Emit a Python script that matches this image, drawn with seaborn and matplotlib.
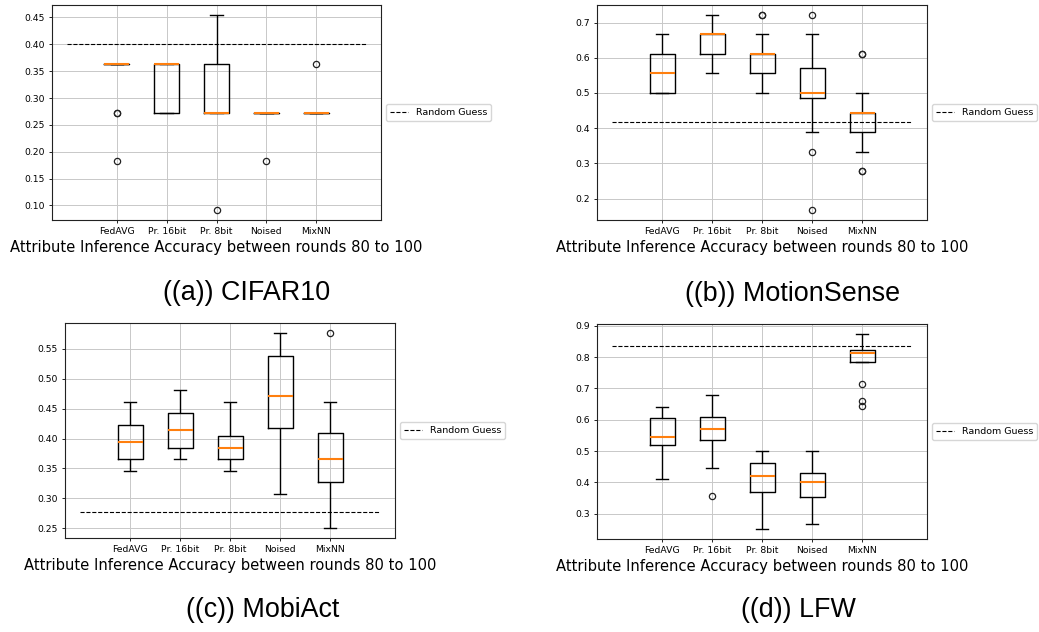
import numpy as np
import pandas as pd
import matplotlib
matplotlib.use('Agg')
import matplotlib.pyplot as plt
from matplotlib.ticker import MultipleLocator
import seaborn as sns

methods = ['FedAVG', 'Pr. 16bit', 'Pr. 8bit', 'Noised', 'MixNN']

# accuracy of the attack for each round 80..100
cifar10 = {
    'FedAVG': [0.182, 0.273, 0.273, 0.364, 0.364, 0.364, 0.364, 0.364, 0.364, 0.364,
               0.364, 0.364, 0.364, 0.364, 0.364, 0.364, 0.364, 0.364, 0.364, 0.364],
    'Pr. 16bit': [0.273, 0.273, 0.273, 0.273, 0.273, 0.273, 0.364, 0.364, 0.364, 0.364,
                  0.364, 0.364, 0.364, 0.364, 0.364, 0.364, 0.364, 0.364, 0.364, 0.364],
    'Pr. 8bit': [0.091, 0.273, 0.273, 0.273, 0.273, 0.273, 0.273, 0.273, 0.273, 0.273,
                 0.273, 0.364, 0.364, 0.364, 0.364, 0.364, 0.364, 0.364, 0.455, 0.455],
    'Noised': [0.182, 0.273, 0.273, 0.273, 0.273, 0.273, 0.273, 0.273, 0.273, 0.273,
               0.273, 0.273, 0.273, 0.273, 0.273, 0.273, 0.273, 0.273, 0.273, 0.273],
    'MixNN': [0.273, 0.273, 0.273, 0.273, 0.273, 0.273, 0.273, 0.273, 0.273, 0.273,
              0.273, 0.273, 0.273, 0.273, 0.273, 0.273, 0.273, 0.273, 0.273, 0.364],
}
motionsense = {
    'FedAVG': [0.5, 0.5, 0.5, 0.5, 0.5, 0.5, 0.556, 0.556, 0.556, 0.556,
               0.556, 0.611, 0.611, 0.611, 0.611, 0.611, 0.667, 0.667, 0.667, 0.667],
    'Pr. 16bit': [0.556, 0.556, 0.611, 0.611, 0.611, 0.611, 0.667, 0.667, 0.667, 0.667,
                  0.667, 0.667, 0.667, 0.667, 0.667, 0.667, 0.667, 0.667, 0.722, 0.722],
    'Pr. 8bit': [0.5, 0.5, 0.556, 0.556, 0.556, 0.556, 0.611, 0.611, 0.611, 0.611,
                 0.611, 0.611, 0.611, 0.611, 0.611, 0.611, 0.667, 0.667, 0.722, 0.722],
    'Noised': [0.167, 0.333, 0.389, 0.444, 0.444, 0.5, 0.5, 0.5, 0.5, 0.5,
               0.5, 0.5, 0.556, 0.556, 0.556, 0.611, 0.611, 0.667, 0.667, 0.722],
    'MixNN': [0.278, 0.278, 0.333, 0.389, 0.389, 0.389, 0.444, 0.444, 0.444, 0.444,
              0.444, 0.444, 0.444, 0.444, 0.444, 0.444, 0.444, 0.5, 0.611, 0.611],
}
mobiact = {
    'FedAVG': [0.346, 0.346, 0.365, 0.365, 0.365, 0.365, 0.385, 0.385, 0.385, 0.385,
               0.404, 0.404, 0.404, 0.404, 0.423, 0.423, 0.423, 0.423, 0.442, 0.462],
    'Pr. 16bit': [0.365, 0.365, 0.385, 0.385, 0.385, 0.385, 0.404, 0.404, 0.404, 0.404,
                  0.423, 0.423, 0.423, 0.423, 0.442, 0.442, 0.442, 0.442, 0.462, 0.481],
    'Pr. 8bit': [0.346, 0.346, 0.365, 0.365, 0.365, 0.365, 0.385, 0.385, 0.385, 0.385,
                 0.385, 0.385, 0.385, 0.385, 0.404, 0.404, 0.404, 0.404, 0.442, 0.462],
    'Noised': [0.308, 0.365, 0.385, 0.404, 0.404, 0.423, 0.442, 0.442, 0.462, 0.462,
               0.481, 0.5, 0.519, 0.538, 0.538, 0.538, 0.558, 0.558, 0.577, 0.577],
    'MixNN': [0.25, 0.288, 0.308, 0.327, 0.327, 0.327, 0.346, 0.346, 0.365, 0.365,
              0.365, 0.385, 0.385, 0.404, 0.404, 0.423, 0.442, 0.442, 0.462, 0.577],
}
lfw = {
    'FedAVG': [0.410, 0.464, 0.500, 0.518, 0.518, 0.518, 0.527, 0.536, 0.536, 0.544,
               0.544, 0.562, 0.571, 0.589, 0.607, 0.607, 0.616, 0.625, 0.634, 0.641],
    'Pr. 16bit': [0.357, 0.445, 0.482, 0.518, 0.534, 0.534, 0.545, 0.554, 0.563, 0.572,
                  0.572, 0.580, 0.589, 0.598, 0.610, 0.610, 0.625, 0.643, 0.661, 0.678],
    'Pr. 8bit': [0.250, 0.304, 0.339, 0.357, 0.370, 0.370, 0.384, 0.393, 0.411, 0.421,
                 0.421, 0.429, 0.438, 0.446, 0.462, 0.462, 0.473, 0.482, 0.491, 0.500],
    'Noised': [0.268, 0.304, 0.321, 0.339, 0.354, 0.354, 0.366, 0.375, 0.384, 0.400,
               0.400, 0.411, 0.420, 0.420, 0.429, 0.429, 0.446, 0.464, 0.482, 0.500],
    'MixNN': [0.643, 0.661, 0.714, 0.786, 0.786, 0.786, 0.795, 0.804, 0.804, 0.812,
              0.812, 0.812, 0.821, 0.821, 0.821, 0.825, 0.830, 0.839, 0.857, 0.875],
}

random_guess = [0.40, 0.417, 0.277, 0.837]
tick_step = [0.05, 0.1, 0.05, 0.1]
captions = ['((a)) CIFAR10', '((b)) MotionSense', '((c)) MobiAct', '((d)) LFW']

W, H = 1039, 632
fig = plt.figure(figsize=(W / 100, H / 100), dpi=100)

# axes boxes in pixels: left, top, right, bottom
boxes = [(52, 5, 381, 220), (597, 5, 927, 220), (65, 323, 395, 538), (597, 324, 927, 539)]
caption_xy = [(247, 293), (793, 294), (263, 610), (798, 610)]


def draw_panel(ax, acc, guess, step):
    df = pd.DataFrame({
        'method': np.repeat(methods, [len(acc[m]) for m in methods]),
        'acc': np.concatenate([acc[m] for m in methods]),
    })
    sns.boxplot(data=df, x='method', y='acc', order=methods, ax=ax,
                width=0.5, fill=False, color='black', linewidth=1.0, whis=1.5,
                medianprops=dict(color='#ff7f0e', linewidth=1.5),
                flierprops=dict(marker='o', markersize=4.5, markerfacecolor='none',
                                markeredgecolor='#222222', markeredgewidth=0.9))
    ax.plot([-1, 5], [guess, guess], color='black', linestyle='--', linewidth=0.8,
            label='Random Guess')
    ax.set_xlim(-1.3, 5.3)
    ax.yaxis.set_major_locator(MultipleLocator(step))
    ax.grid(True, color='#c8c8c8', linewidth=0.7)
    ax.set_axisbelow(True)
    ax.set_ylabel('')
    ax.set_xlabel('Attribute Inference Accuracy between rounds 80 to 100', fontsize=10.6, labelpad=3)
    ax.tick_params(labelsize=6.7, length=2.5, width=0.6, pad=2.5)
    for s in ax.spines.values():
        s.set_linewidth(0.8)
        s.set_color('#222222')
    ax.legend(loc='center left', bbox_to_anchor=(1.0, 0.5), fontsize=6.8,
              handlelength=2.0, borderaxespad=0.5)


for (l, t, r, b), acc, guess, step in zip(boxes, [cifar10, motionsense, mobiact, lfw],
                                          random_guess, tick_step):
    ax = fig.add_axes([l / W, 1 - b / H, (r - l) / W, (b - t) / H])
    draw_panel(ax, acc, guess, step)

for (x, y), cap in zip(caption_xy, captions):
    fig.text(x / W, 1 - y / H, cap, ha='center', va='center', fontsize=19.4,
             family=['Liberation Sans', 'DejaVu Sans'])

fig.savefig('out.png', dpi=100)
